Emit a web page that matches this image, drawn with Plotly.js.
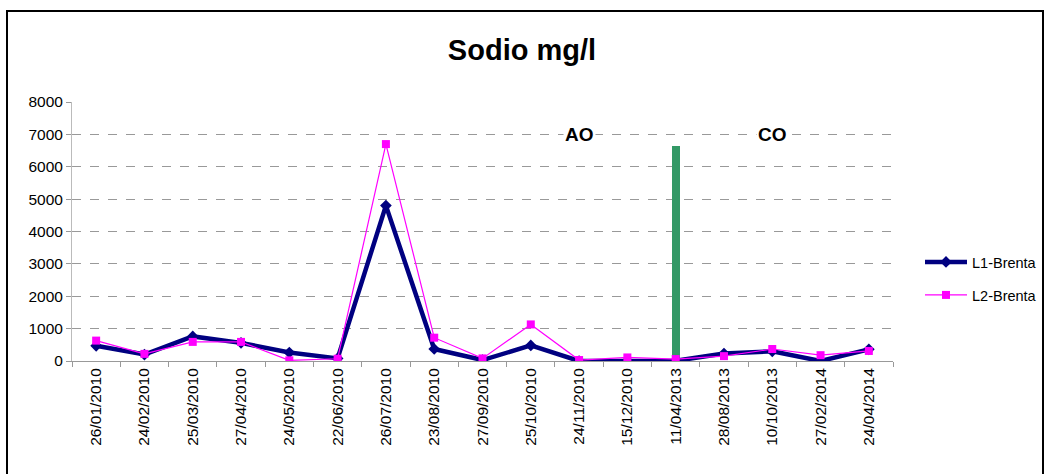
<!DOCTYPE html>
<html>
<head>
<meta charset="utf-8">
<script src="https://cdn.plot.ly/plotly-3.0.1.min.js"></script>
<style>
html,body{margin:0;padding:0;background:#fff;}
#chart{width:1045px;height:474px;}
</style>
</head>
<body>
<div id="chart"></div>
<script>
const dates = ["26/01/2010","24/02/2010","25/03/2010","27/04/2010","24/05/2010","22/06/2010","26/07/2010","23/08/2010","27/09/2010","25/10/2010","24/11/2010","15/12/2010","11/04/2013","28/08/2013","10/10/2013","27/02/2014","24/04/2014"];
const l1Brenta = [470, 200, 760, 560, 260, 80, 4800, 370, 30, 480, 0, 10, 5, 230, 300, 0, 360];
const l2Brenta = [630, 220, 590, 590, 20, 70, 6700, 720, 80, 1130, 30, 110, 60, 150, 370, 180, 310];
const separatorDate = ["11/04/2013"];
const separatorValue = [6650];
const periodLabels = ["AO", "CO"];
const periodDates = ["24/11/2010", "10/10/2013"];
const periodY = [7000, 7000];
const yTicks = [0,1000,2000,3000,4000,5000,6000,7000,8000];

const font = "Liberation Sans, Arial, sans-serif";

const traces = [
  {type:"bar", x:separatorDate, y:separatorValue, width:0.17, marker:{color:"#339966"}, showlegend:false, hoverinfo:"skip"},
  {type:"scatter", mode:"lines+markers", name:"L1-Brenta", x:dates, y:l1Brenta,
   line:{color:"#000080", width:4.5}, marker:{symbol:"diamond", size:9, color:"#000080"}, legend:"legend"},
  {type:"scatter", mode:"lines+markers", name:"L2-Brenta", x:dates, y:l2Brenta,
   line:{color:"#FF00FF", width:1.2}, marker:{symbol:"square", size:8, color:"#FF00FF"}, legend:"legend2"}
];

const layout = {
  width:1045, height:474,
  margin:{l:72, r:152, t:102, b:113, autoexpand:false},
  paper_bgcolor:"#fff", plot_bgcolor:"#fff",
  font:{family:font, size:15, color:"#000"},
  title:{text:"<b>Sodio mg/l</b>", font:{family:font, size:29, color:"#000"}, x:0.4995, xanchor:"center", y:0.895, yanchor:"middle"},
  xaxis:{type:"category", categoryorder:"array", categoryarray:dates, tickangle:-90,
    tickfont:{family:font, size:15.5}, showline:true, linecolor:"#999", linewidth:1,
    ticks:"outside", tickson:"boundaries", ticklen:5, tickcolor:"#999", showgrid:false,
    range:[-0.5, 16.5], fixedrange:true},
  yaxis:{range:[0,8000], tickvals:yTicks, ticktext:yTicks.map(String), tickfont:{family:font, size:15.5},
    showline:true, linecolor:"#bbb", linewidth:1, ticks:"outside", ticklen:5, tickcolor:"#999",
    showgrid:true, gridcolor:"#999", griddash:"dash", gridwidth:1, zeroline:false, fixedrange:true},
  legend:{x:(920-72)/821, xanchor:"left", y:(361-262)/259, yanchor:"middle", font:{family:font, size:14.5},
    bgcolor:"rgba(0,0,0,0)", itemwidth:42},
  legend2:{x:(920-72)/821, xanchor:"left", y:(361-295)/259, yanchor:"middle", font:{family:font, size:14.5},
    bgcolor:"rgba(0,0,0,0)", itemwidth:42},
  annotations: periodLabels.map((t,i)=>({x:periodDates[i], y:periodY[i], xref:"x", yref:"y", text:"<b>"+t+"</b>",
    showarrow:false, font:{family:font, size:19, color:"#000"}, bgcolor:"#fff"})),
  shapes:[{type:"rect", xref:"paper", yref:"paper", x0:(7-72)/821, x1:(1043-72)/821, y0:(361-480)/259, y1:(361-11)/259,
    line:{color:"#000", width:2}, fillcolor:"rgba(0,0,0,0)", layer:"above"}],
  showlegend:true, bargap:0
};

Plotly.newPlot("chart", traces, layout, {displayModeBar:false, staticPlot:true});
</script>
</body>
</html>
